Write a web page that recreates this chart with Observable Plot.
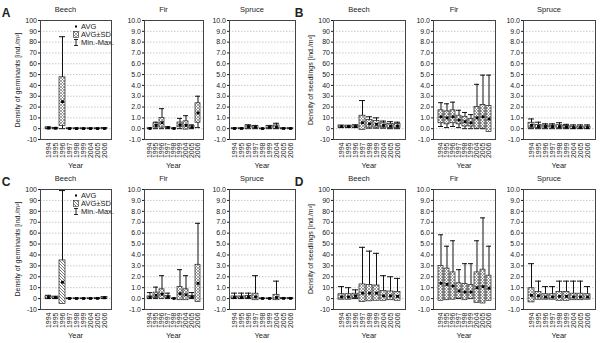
<!DOCTYPE html>
<html><head><meta charset="utf-8">
<script src="https://cdn.jsdelivr.net/npm/d3@7"></script>
<script src="https://cdn.jsdelivr.net/npm/@observablehq/plot@0.6"></script>
<style>
body{margin:0;background:#fff;font-family:"Liberation Sans",Arial,sans-serif}
#root{position:relative;width:600px;height:343px;overflow:hidden;background:#fff}
.t{position:absolute;color:#222;white-space:nowrap;line-height:1;font-size:7.5px}
.lg{position:absolute;display:flex;align-items:center;font-size:7.5px;color:#222;white-space:nowrap;line-height:1;height:7px}
.lg svg{margin-right:2px}
</style></head><body>
<svg width="0" height="0" style="position:absolute">
<defs>
<pattern id="xhatch" patternUnits="userSpaceOnUse" width="3" height="3">
<rect width="3" height="3" fill="#fff"/>
<path d="M0,0L3,3M3,0L0,3" stroke="#666" stroke-width="0.6"/>
</pattern>
<pattern id="dhatch" patternUnits="userSpaceOnUse" width="3" height="3">
<rect width="3" height="3" fill="#fff"/>
<path d="M0,0L3,3M-1,2L1,4M2,-1L4,1" stroke="#444" stroke-width="0.7"/>
</pattern>
</defs></svg>
<div id="root"></div>
<script>
// ---------- data ----------
const years = [1994, 1995, 1996, 1997, 1998, 1999, 2004, 2005, 2006];
const beechTicks = [-10, 0, 10, 20, 30, 40, 50, 60, 70, 80, 90, 100];
const coniferTicks = [-1, 0, 1, 2, 3, 4, 5, 6, 7, 8, 9, 10];
const speciesNames = ["Beech", "Fir", "Spruce"];
const panelLetters = ["A", "B", "C", "D"];
const yTitles = ["Density of germinants [ind./m²]", "Density of seedlings [ind./m²]"];
const xTitle = "Year";
const legendLabels = ["AVG", "AVG±SD", "Min.-Max."];

// A: germinants (first set)
const aBeechAvg = [0.6, 0.4, 25, 0.1, 0.1, 0.1, 0.1, 0.1, 0.2];
const aBeechSd  = [0.5, 0.4, 22.5, 0.2, 0.2, 0.2, 0.2, 0.2, 0.3];
const aBeechMin = [0, 0, 0, 0, 0, 0, 0, 0, 0];
const aBeechMax = [1.5, 1, 85, 0.5, 0.5, 0.5, 0.5, 0.5, 1];
const aFirAvg = [0.02, 0.3, 0.55, 0.1, 0.02, 0.35, 0.3, 0.15, 1.45];
const aFirSd  = [0.02, 0.2, 0.45, 0.05, 0.02, 0.22, 0.38, 0.12, 0.9];
const aFirMin = [0, 0, 0, 0, 0, 0, 0, 0, 0.1];
const aFirMax = [0.05, 0.6, 1.85, 0.15, 0.03, 0.95, 1.2, 0.35, 3.0];
const aSpruceAvg = [0.02, 0.02, 0.2, 0.15, 0.01, 0.15, 0.15, 0.02, 0.02];
const aSpruceSd  = [0.02, 0.02, 0.1, 0.08, 0.01, 0.1, 0.15, 0.02, 0.02];
const aSpruceMin = [0, 0, 0, 0, 0, 0, 0, 0, 0];
const aSpruceMax = [0.05, 0.05, 0.35, 0.3, 0.02, 0.3, 0.5, 0.05, 0.05];

// B: seedlings (first set)
const bBeechAvg = [2, 2, 2, 5.5, 4.5, 4, 3, 2.5, 2.5];
const bBeechSd  = [1, 0.8, 1, 6.5, 3.5, 3, 2, 2, 2];
const bBeechMin = [1, 1, 1, 0, 0.5, 0.5, 0.5, 0, 0];
const bBeechMax = [3, 3, 3.5, 26, 11, 10, 7, 6.5, 6];
const bFirAvg = [1.1, 1.0, 1.1, 0.8, 0.65, 0.55, 1.0, 1.1, 0.9];
const bFirSd  = [0.6, 0.6, 0.6, 0.4, 0.45, 0.35, 1.0, 1.1, 1.2];
const bFirMin = [0.2, 0.1, 0.2, 0.1, 0, 0, 0, 0, 0];
const bFirMax = [2.4, 2.3, 2.45, 1.7, 1.5, 1.3, 4.1, 4.95, 4.95];
const bSpruceAvg = [0.3, 0.2, 0.2, 0.2, 0.2, 0.15, 0.1, 0.1, 0.1];
const bSpruceSd  = [0.25, 0.15, 0.1, 0.1, 0.12, 0.1, 0.1, 0.1, 0.1];
const bSpruceMin = [0, 0, 0, 0, 0, 0, 0, 0, 0];
const bSpruceMax = [0.9, 0.6, 0.45, 0.45, 0.55, 0.4, 0.35, 0.35, 0.35];

// C: germinants (second set)
const cBeechAvg = [1, 1, 15, 0.1, 0.1, 0.1, 0.1, 0.2, 0.8];
const cBeechSd  = [1, 0.8, 20, 0.1, 0.1, 0.1, 0.1, 0.2, 0.7];
const cBeechMin = [0, 0, 0, 0, 0, 0, 0, 0, 0];
const cBeechMax = [3, 2, 99, 0.3, 0.3, 0.3, 0.3, 0.5, 1.5];
const cFirAvg = [0.1, 0.3, 0.4, 0.15, 0.01, 0.45, 0.35, 0.15, 1.4];
const cFirSd  = [0.1, 0.25, 0.45, 0.1, 0.01, 0.6, 0.5, 0.1, 1.7];
const cFirMin = [0, 0, 0, 0, 0, 0, 0, 0, 0];
const cFirMax = [0.55, 1.05, 2.1, 0.5, 0.02, 2.65, 2.1, 0.55, 6.9];
const cSpruceAvg = [0.1, 0.1, 0.15, 0.15, 0.01, 0.01, 0.1, 0.02, 0.02];
const cSpruceSd  = [0.1, 0.1, 0.1, 0.3, 0.01, 0.01, 0.25, 0.02, 0.02];
const cSpruceMin = [0, 0, 0, 0, 0, 0, 0, 0, 0];
const cSpruceMax = [0.5, 0.5, 0.5, 2.1, 0.02, 0.02, 1.6, 0.05, 0.05];

// D: seedlings (second set)
const dBeechAvg = [1.5, 1.5, 2.5, 5, 5, 5, 2.5, 2.5, 2];
const dBeechSd  = [2.5, 2.5, 2, 8, 7.5, 7, 4.5, 4, 4];
const dBeechMin = [0, 0, 0, 0, 0, 0, 0, 0, 0];
const dBeechMax = [11, 10, 8, 47, 43.5, 41.5, 21, 20, 18.5];
const dFirAvg = [1.4, 1.3, 1.15, 0.7, 0.6, 0.6, 1.0, 1.1, 0.95];
const dFirSd  = [1.6, 1.45, 1.25, 0.7, 0.75, 0.65, 1.4, 1.55, 1.15];
const dFirMin = [0, 0, 0, 0, 0, 0, 0, 0, 0];
const dFirMax = [5.85, 4.8, 5.3, 2.65, 3.2, 3.2, 5.3, 7.4, 4.8];
const dSpruceAvg = [0.3, 0.25, 0.15, 0.15, 0.2, 0.2, 0.15, 0.15, 0.15];
const dSpruceSd  = [0.65, 0.35, 0.25, 0.25, 0.4, 0.4, 0.3, 0.3, 0.25];
const dSpruceMin = [0, 0, 0, 0, 0, 0, 0, 0, 0];
const dSpruceMax = [3.2, 1.6, 1.1, 1.1, 1.6, 1.6, 1.6, 1.6, 1.1];

// ---------- layout ----------
const root = document.getElementById("root");
const colFrames = [
  [[40, 111], [144, 203], [229, 295]],
  [[333, 405], [433, 495], [523, 595]]
];
const rowFrames = [[20, 139], [189, 309]];

const panels = [
  {row: 0, col: 0, pattern: "xhatch", yTitle: yTitles[0], series: [
    [aBeechAvg, aBeechSd, aBeechMin, aBeechMax],
    [aFirAvg, aFirSd, aFirMin, aFirMax],
    [aSpruceAvg, aSpruceSd, aSpruceMin, aSpruceMax]]},
  {row: 0, col: 1, pattern: "xhatch", yTitle: yTitles[1], series: [
    [bBeechAvg, bBeechSd, bBeechMin, bBeechMax],
    [bFirAvg, bFirSd, bFirMin, bFirMax],
    [bSpruceAvg, bSpruceSd, bSpruceMin, bSpruceMax]]},
  {row: 1, col: 0, pattern: "dhatch", yTitle: yTitles[0], series: [
    [cBeechAvg, cBeechSd, cBeechMin, cBeechMax],
    [cFirAvg, cFirSd, cFirMin, cFirMax],
    [cSpruceAvg, cSpruceSd, cSpruceMin, cSpruceMax]]},
  {row: 1, col: 1, pattern: "xhatch", yTitle: yTitles[1], series: [
    [dBeechAvg, dBeechSd, dBeechMin, dBeechMax],
    [dFirAvg, dFirSd, dFirMin, dFirMax],
    [dSpruceAvg, dSpruceSd, dSpruceMin, dSpruceMax]]}
];

function text(str, x, y, opts = {}) {
  const d = document.createElement("div");
  d.className = "t";
  d.textContent = str;
  d.style.left = x + "px";
  d.style.top = y + "px";
  if (opts.size) d.style.fontSize = opts.size + "px";
  if (opts.weight) d.style.fontWeight = opts.weight;
  d.style.transform = "translate(-50%,-50%)" + (opts.rotate ? ` rotate(${opts.rotate}deg)` : "");
  root.appendChild(d);
}

function subplot(avg, sd, mn, mx, ticks, fmt, frame, pattern) {
  const [x0, x1, y0, y1] = frame;
  const mL = 24, mR = 2, mT = 2, mB = 24;
  const data = years.map((y, i) => ({
    year: String(y), avg: avg[i], lo: avg[i] - sd[i], hi: avg[i] + sd[i], min: mn[i], max: mx[i]
  }));
  const svg = Plot.plot({
    width: x1 - x0 + mL + mR, height: y1 - y0 + mT + mB,
    marginLeft: mL, marginRight: mR, marginTop: mT, marginBottom: mB,
    style: {fontFamily: '"Liberation Sans", Arial, sans-serif', fontSize: "7px", background: "none", color: "#1a1a1a", overflow: "visible"},
    x: {domain: years.map(String), padding: 0.18, tickRotate: -90, tickSize: 0, tickPadding: 3, label: null},
    y: {domain: [ticks[0], ticks[ticks.length - 1]], ticks: ticks, tickFormat: fmt, tickSize: 2, tickPadding: 1.5, label: null},
    marks: [
      Plot.ruleY(ticks.slice(1, -1), {stroke: "#c8c8c8", strokeDasharray: "1.5,1.5"}),
      Plot.ruleX(data, {x: "year", y1: "min", y2: "max", stroke: "#111", strokeWidth: 1}),
      Plot.tickY(data, {x: "year", y: "max", stroke: "#111", strokeWidth: 1}),
      Plot.tickY(data, {x: "year", y: "min", stroke: "#111", strokeWidth: 1}),
      Plot.barY(data, {x: "year", y1: "lo", y2: "hi", fill: `url(#${pattern})`, stroke: "#222", strokeWidth: 0.7}),
      Plot.dot(data, {x: "year", y: "avg", symbol: "square", r: 1.6, fill: "#000", stroke: null}),
      Plot.frame({stroke: "#444"})
    ]
  });
  svg.style.position = "absolute";
  svg.style.left = (x0 - mL) + "px";
  svg.style.top = (y0 - mT) + "px";
  root.appendChild(svg);
}

function legend(x, yRows, pattern) {
  const icons = [
    `<svg width="6" height="7"><rect x="2" y="2.5" width="2" height="2" fill="#000"/></svg>`,
    `<svg width="6" height="7"><rect x="0.5" y="0.5" width="5" height="6" fill="url(#${pattern})" stroke="#222" stroke-width="0.6"/></svg>`,
    `<svg width="6" height="7"><path d="M1,0.5H5M3,0.5V6.5M1,6.5H5" stroke="#111" stroke-width="0.9" fill="none"/></svg>`
  ];
  legendLabels.forEach((lab, i) => {
    const d = document.createElement("div");
    d.className = "lg";
    d.innerHTML = icons[i] + `<span>${lab}</span>`;
    d.style.left = x + "px";
    d.style.top = (yRows[i] - 3.5) + "px";
    root.appendChild(d);
  });
}

panels.forEach((p, pi) => {
  const [fy0, fy1] = rowFrames[p.row];
  const cols = colFrames[p.col];
  cols.forEach(([fx0, fx1], si) => {
    const [avg, sd, mn, mx] = p.series[si];
    const isBeech = si === 0;
    subplot(avg, sd, mn, mx,
      isBeech ? beechTicks : coniferTicks,
      isBeech ? (d => String(d)) : (d => d.toFixed(1)),
      [fx0, fx1, fy0, fy1], si === 0 ? p.pattern : "xhatch");
    text(speciesNames[si], (fx0 + fx1) / 2 - 10, fy0 - 10, {size: 7.5});
    text(xTitle, (fx0 + fx1) / 2, fy1 + 27, {size: 7.5});
  });
  const bx0 = cols[0][0];
  text(panelLetters[pi], bx0 - 34, fy0 - 7, {size: 12, weight: "bold"});
  text(p.yTitle, bx0 - 23, (fy0 + fy1) / 2, {size: 7, rotate: -90});
  if (p.col === 0) {
    legend(bx0 + 33, [fy0 + 6.5, fy0 + 14.5, fy0 + 22.5], p.pattern);
  }
});
</script>
</body></html>
